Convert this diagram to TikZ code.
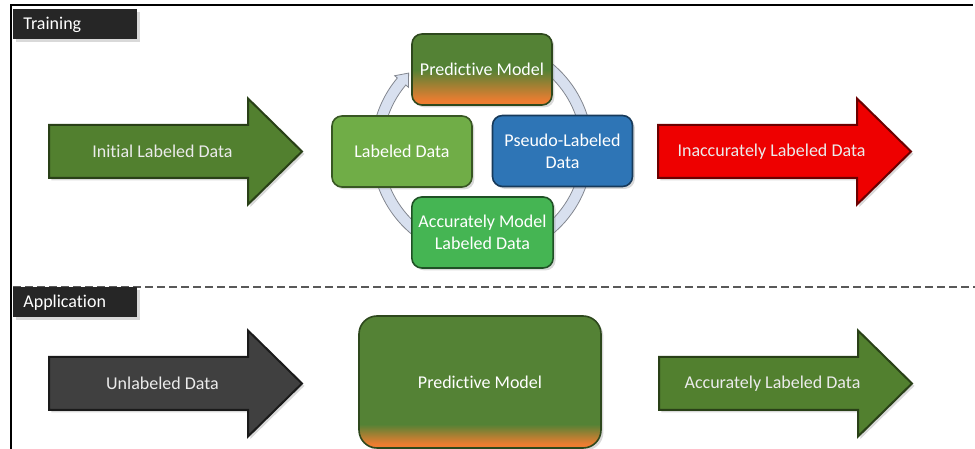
\documentclass[tikz,border=0pt]{standalone}
\usepackage{fontspec}
\setmainfont{Carlito}[Ligatures=NoCommon]
\usetikzlibrary{calc,shadows}

\definecolor{mdgreen}{HTML}{548235}
\definecolor{mdorange}{HTML}{ED7D31}
\definecolor{arrowgreen}{HTML}{52802F}
\definecolor{arrowred}{HTML}{EE0000}
\definecolor{arrowgrey}{HTML}{404040}
\definecolor{lightgreen}{HTML}{70AD47}
\definecolor{brightgreen}{HTML}{45B553}
\definecolor{mdblue}{HTML}{2E75B6}
\definecolor{ringblue}{HTML}{D8E0EF}
\definecolor{tabgrey}{HTML}{262626}

% green at the top, orange creeping in from the bottom
\pgfdeclareverticalshading{cyclefade}{100bp}{color(0bp)=(mdorange); color(28bp)=(mdorange); color(50bp)=(mdgreen); color(100bp)=(mdgreen)}
\pgfdeclareverticalshading{appfade}{100bp}{color(0bp)=(mdorange); color(26.5bp)=(mdorange); color(34bp)=(mdgreen); color(100bp)=(mdgreen)}

\begin{document}
\begin{tikzpicture}[x=0.5pt, y=0.5pt, font=\fontsize{9}{11}\selectfont,
  shadowed/.style={drop shadow={opacity=0.3, shadow xshift=1.2pt, shadow yshift=-1.2pt}},
  greenarrow/.style={fill=arrowgreen, draw=arrowgreen!50!black, line width=1pt, shadowed},
  redarrow/.style={fill=arrowred, draw=arrowred!45!black, line width=1pt, shadowed},
  greyarrow/.style={fill=arrowgrey, draw=arrowgrey!40!black, line width=1pt, shadowed},
  arrowtext/.style={text=white!92!black},
  tabbox/.style={fill=tabgrey, text=white, anchor=west, text width=52pt, align=left,
                 inner xsep=5pt, minimum height=15pt, shadowed},
  cyclebox/.style={rounded corners=5pt, minimum width=70pt, minimum height=35.5pt,
                   text=white, align=center, line width=0.8pt, shadowed},
  ring/.style={fill=ringblue, draw=ringblue!60!black, line width=0.4pt}]

\useasboundingbox (0,0) rectangle (975,449);

% frame and section split
\draw[line width=1pt] (11,0) -- (11,444) -- (973,444);
\draw[dashed, dash pattern=on 4pt off 2pt, draw=black!65, line width=0.6pt] (13,162) -- (975,162);

\node[tabbox] (training) at (13,424.5) {Training};
\node[tabbox] (application) at (13,146.5) {Application};

% the four big block arrows
\foreach \n/\x/\y/\s/\t in {initial/49/297.5/greenarrow/Initial Labeled Data,
                            inaccurate/658/297.5/redarrow/Inaccurately Labeled Data,
                            unlabeled/49/65.5/greyarrow/Unlabeled Data,
                            accurate/659/65.5/greenarrow/Accurately Labeled Data}
{
  \filldraw[\s] (\x,\y-26.5) -- ++(199,0) -- ++(0,-26.5) -- (\x+253,\y)
                -- (\x+199,\y+53) -- ++(0,-26.5) -- (\x,\y+26.5) -- cycle;
  \node[arrowtext] (\n) at (\x+113.5,\y) {\t};
}

% self-training loop
\coordinate (hub) at (482,300);
\filldraw[ring] ($(hub)+(80:110.5)$) arc[start angle=80, end angle=-220, radius=110.5]
   -- ($(hub)+(140:114)$) -- ($(hub)+(140:105)+(50:11)$) -- ($(hub)+(140:96)$)
   -- ($(hub)+(140:99.5)$) arc[start angle=140, end angle=440, radius=99.5] -- cycle;

\node[cyclebox, shade, shading=cyclefade, draw=mdgreen!55!black] (model) at (482,379.5) {Predictive Model};
\node[cyclebox, fill=lightgreen, draw=lightgreen!50!black] (labeled) at (402,297.5) {Labeled Data};
\node[cyclebox, fill=mdblue, draw=mdblue!50!black] (pseudo) at (562.5,298) {Pseudo-Labeled\\Data};
\node[cyclebox, fill=brightgreen, draw=brightgreen!45!black] (checked) at (482.5,216.5) {Accurately Model\\Labeled Data};

% trained model in use
\node[cyclebox, rounded corners=9pt, minimum width=121pt, minimum height=66pt,
      shade, shading=appfade, draw=mdgreen!55!black] (appmodel) at (480,67) {Predictive Model};
\end{tikzpicture}
\end{document}
